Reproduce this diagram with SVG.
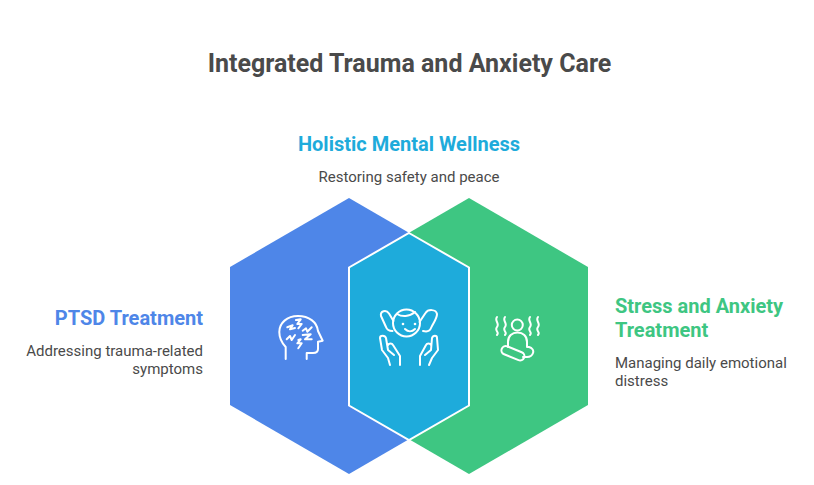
<svg xmlns="http://www.w3.org/2000/svg" width="814" height="485" viewBox="0 0 814 485">
<style>
text{font-family:Roboto,"Liberation Sans",sans-serif}
.t{font-size:25px;font-weight:700;fill:#4a4a4a}
.h{font-size:20px;font-weight:700}
.d{font-size:15px;fill:#4a4a4a}
.i{fill:none;stroke:#fff;stroke-width:2;stroke-linecap:round;stroke-linejoin:round}
</style>
<rect width="814" height="485" fill="#fff"/>
<text class="t" x="409.500" y="72" text-anchor="middle">Integrated Trauma and Anxiety Care</text>
<g id="connectors"></g>
<g id="ptsd">
<path d="M349 198L468 267V405L349 474L230 405V267Z" fill="#4e86e8"/>
<text class="h" x="203" y="325" text-anchor="end" fill="#4e86e8">PTSD Treatment</text>
<text class="d" x="203" y="356" text-anchor="end">Addressing trauma-related</text>
<text class="d" x="203" y="374" text-anchor="end">symptoms</text>
<path class="i" d="M285.700 359V347C281 342 279.300 338 279.300 332C279.300 323 287 316 298 316C309 316 317 322 318 331L322.700 340.700L318 341.700V349C318 352 316 353 313 353H306.700V359"/>
<path class="i" d="M296 320L300.700 319.300L297.300 324L301.700 324L298.300 328.300M287.300 327.300L292.700 325.300L290 329.300L295 328M302.700 330.700L306 328.300L307.300 331.700L311.700 327.300M286.700 339.300L290 336L291.700 340L295 335M302.700 335L310.700 334.300L305 339.300H311.700M298.300 340L300.700 339.300L297.300 343.300L301.700 343.300L298.300 348.300"/>
</g>
<g id="stress">
<path d="M469 198L588 267V405L469 474L350 405V267Z" fill="#3ec682"/>
<text class="h" x="615" y="313" fill="#3ec682">Stress and Anxiety</text>
<text class="h" x="615" y="337" fill="#3ec682">Treatment</text>
<text class="d" x="615" y="368">Managing daily emotional</text>
<text class="d" x="615" y="386">distress</text>
<circle class="i" cx="517.300" cy="325" r="5.500"/>
<path class="i" d="M508 347V342C508 336 512 332.500 517.500 332.500C523 332.500 527 336 527 342V347H529C532 348 534 350 533 353C532 356 530 357 527 357H523"/>
<rect class="i" x="501" y="349" width="24" height="8.500" rx="4.200" transform="rotate(22 513 353)"/>
<path class="i" d="M497 317C494 321 500 323 497 327C494 331 500 332 497 335M505 317C502 321 508 323 505 327C502 331 508 332 505 335M530 317C527 321 533 323 530 327C527 331 533 332 530 335M538 317C535 321 541 323 538 327C535 331 541 332 538 335"/>
</g>
<g id="holistic">
<path d="M409 233L469 267.500V405.500L409 440L349 405.500V267.500Z" fill="#1eabdb" stroke="#fff" stroke-width="2"/>
<text class="h" x="409" y="151" text-anchor="middle" fill="#1eabdb">Holistic Mental Wellness</text>
<text class="d" x="409" y="182" text-anchor="middle">Restoring safety and peace</text>
<circle class="i" cx="406.500" cy="323" r="13.500"/>
<path class="i" d="M397 314C402 317 409 317 415 312M405 329C408 332 412 332 415 329"/>
<path class="i" d="M393.500 321L389 313.500C386 309 380 311 381 316L386 327C387 330 390 331 392.500 331M419.500 322L425.500 313C428 309 436 309 437 314C437 319 433 323 431 328C430 331 427 332 423 331"/>
<circle cx="403" cy="324" r="1.300" fill="#fff"/><circle cx="415" cy="324" r="1.300" fill="#fff"/>
<path class="i" d="M400 365V356L393 345C392 343 389 343 388 345M390 365L388 358L382 350L380 338C380 335 385 335 386 338L388 350L394 355M420 365V356L426 345C427 343 430 343 431 345M429 365L432 358L438 350L437 338C437 335 433 335 432 338L431 350L425 355"/>
</g>
</svg>
